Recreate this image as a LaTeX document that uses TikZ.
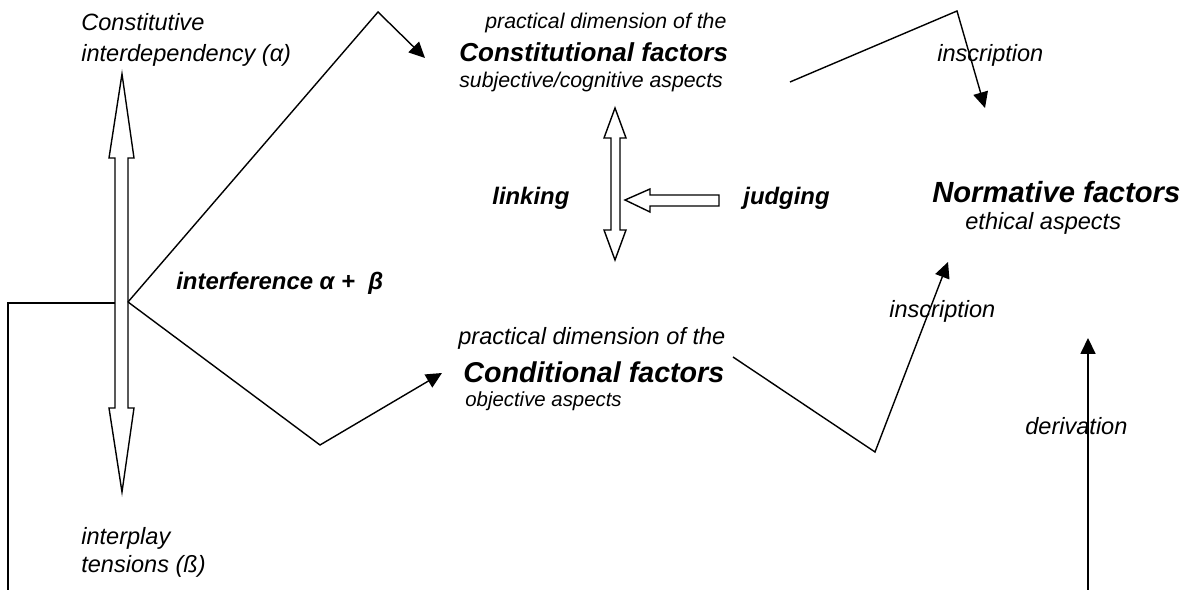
\documentclass[tikz,border=0pt]{standalone}
\usepackage{fontspec}
\setmainfont{Liberation Sans}
\usetikzlibrary{arrows.meta}
\tikzset{txt/.style={anchor=base west, inner sep=0pt}}
\tikzset{flow/.style={line width=0.8pt, -{Triangle[length=9pt,width=8.5pt]}}}
\tikzset{blockarrow/.style={draw=black, fill=white, line width=0.8pt}}
\newcommand{\fsz}[1]{\fontsize{#1}{#1}\selectfont}

\begin{document}
\begin{tikzpicture}[x=0.02cm,y=-0.02cm]
\useasboundingbox (0,0) rectangle (1183,590);
\draw[line width=0.8pt] (8,590) -- (8,303) -- (115,303);
\filldraw[blockarrow] (122,74) -- (134,158) -- (128,158) -- (128,408) -- (134,408) -- (122,492) -- (109,408) -- (115,408) -- (115,158) -- (109,158) -- cycle;
\filldraw[blockarrow] (615,108) -- (626,138) -- (620,138) -- (620,230) -- (626,230) -- (615,260) -- (604,230) -- (611,230) -- (611,138) -- (604,138) -- cycle;
\filldraw[blockarrow] (625,200) -- (650,189) -- (650,195) -- (719,195) -- (719,206) -- (650,206) -- (650,212) -- cycle;
\node[txt, font=\itshape\fsz{13.4}] (alphaA) at (81,31) {Constitutive};
\node[txt, font=\itshape\fsz{13.4}] (alphaB) at (81,62) {interdependency (α)};
\node[txt, font=\itshape\fsz{13.4}] (betaA) at (81,545) {interplay};
\node[txt, font=\itshape\fsz{13.4}] (betaB) at (81,573) {tensions (ß)};
\node[txt, font=\bfseries\itshape\fsz{13.6}] (interf) at (176,290) {interference α + \ β};
\node[txt, font=\itshape\fsz{12.1}] (constA) at (485,29) {practical dimension of the};
\node[txt, font=\bfseries\itshape\fsz{14.8}] (constB) at (459,62) {Constitutional factors};
\node[txt, font=\itshape\fsz{12.1}] (constC) at (459,88) {subjective/cognitive aspects};
\node[txt, font=\bfseries\itshape\fsz{13.6}] (linking) at (492,205) {linking};
\node[txt, font=\bfseries\itshape\fsz{13.6}] (judging) at (743,205) {judging};
\node[txt, font=\bfseries\itshape\fsz{16.6}] (normA) at (932,203) {Normative factors};
\node[txt, font=\itshape\fsz{13.4}] (normB) at (965,230) {ethical aspects};
\node[txt, font=\itshape\fsz{13.4}] (inscrA) at (937,62) {inscription};
\node[txt, font=\itshape\fsz{13.4}] (inscrB) at (889,318) {inscription};
\node[txt, font=\itshape\fsz{13.4}] (deriv) at (1025,435) {derivation};
\node[txt, font=\itshape\fsz{13.4}] (condA) at (458,345) {practical dimension of the};
\node[txt, font=\bfseries\itshape\fsz{16.3}] (condB) at (463,383) {Conditional factors};
\node[txt, font=\itshape\fsz{11.6}] (condC) at (465,407) {objective aspects};
\coordinate (hub) at (128,302);
\coordinate (upbend) at (378,12);
\coordinate (uptip) at (425,58);
\coordinate (downbend) at (320,445);
\coordinate (downtip) at (442,373);
\coordinate (constout) at (790,82);
\coordinate (constbend) at (957,11);
\coordinate (normtop) at (985,108);
\coordinate (condout) at (733,357);
\coordinate (condbend) at (875,452);
\coordinate (normbot) at (948,262);
\coordinate (derivfoot) at (1088,590);
\coordinate (derivtip) at (1088,338);
\draw[flow] (hub) -- (upbend) -- (uptip);
\draw[flow] (hub) -- (downbend) -- (downtip);
\draw[flow] (constout) -- (constbend) -- (normtop);
\draw[flow] (condout) -- (condbend) -- (normbot);
\draw[flow] (derivfoot) -- (derivtip);
\end{tikzpicture}
\end{document}
